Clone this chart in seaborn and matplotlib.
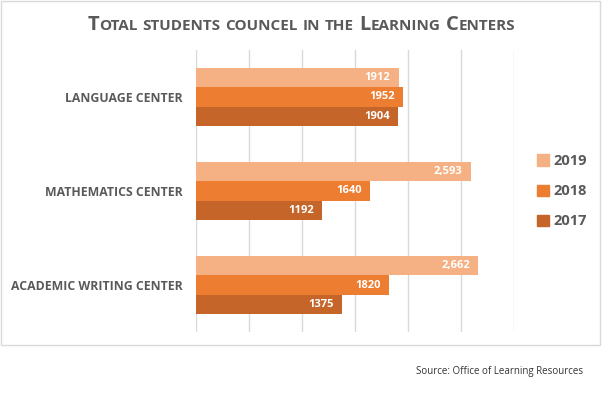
import matplotlib
matplotlib.use("Agg")
import matplotlib.pyplot as plt
import pandas as pd
import seaborn as sns
from matplotlib.patches import Patch, Rectangle

# data
centers = ["LANGUAGE CENTER", "MATHEMATICS CENTER", "ACADEMIC WRITING CENTER"]
years = ["2019", "2018", "2017"]
students_2019 = [1912, 2593, 2662]
students_2018 = [1952, 1640, 1820]
students_2017 = [1904, 1192, 1375]
labels_2019 = ["1912", "2,593", "2,662"]
labels_2018 = ["1952", "1640", "1820"]
labels_2017 = ["1904", "1192", "1375"]
x_ticks = [0, 500, 1000, 1500, 2000, 2500, 3000]

colors = ["#F5B183", "#ED7D31", "#C5652A"]
text_gray = "#595959"

df = pd.DataFrame({
    "center": centers * 3,
    "year": ["2019"] * 3 + ["2018"] * 3 + ["2017"] * 3,
    "students": students_2019 + students_2018 + students_2017,
})
value_labels = {"2019": labels_2019, "2018": labels_2018, "2017": labels_2017}

sns.set_theme(style="white")
plt.rcParams["font.family"] = ["Open Sans", "DejaVu Sans"]

W, H = 602, 396
fig = plt.figure(figsize=(W / 100, H / 100), dpi=100)
ax = fig.add_axes([196 / W, 1 - 332 / H, (514 - 196) / W, (332 - 50) / H])

sns.barplot(data=df, y="center", x="students", hue="year", hue_order=years,
            order=centers, palette=colors, orient="h", width=0.62, gap=0,
            saturation=1, legend=False, linewidth=0, ax=ax)

ax.set_xlim(0, 3000)
ax.set_ylim(2.5, -0.5)
ax.set_xticks(x_ticks)
ax.tick_params(axis="x", length=0, labelbottom=False)
ax.tick_params(axis="y", length=0, pad=9.5)
ax.grid(axis="x", color="#D9D9D9", lw=1)
ax.grid(axis="y", visible=False)
ax.set_axisbelow(True)
for s in ax.spines.values():
    s.set_visible(False)
ax.set_xlabel("")
ax.set_ylabel("")
for t in ax.get_yticklabels():
    t.set_fontsize(8.8)
    t.set_fontweight("bold")
    t.set_color(text_gray)

# white value labels inside bar ends
for year, cont in zip(years, ax.containers):
    for patch, lab in zip(cont.patches, value_labels[year]):
        ax.annotate(lab, (patch.get_width(), patch.get_y() + patch.get_height() / 2),
                    xytext=(-6, 0), textcoords="offset points", ha="right", va="center",
                    color="white", fontsize=8, fontweight="bold")

# legend on the right
handles = [Patch(color=c) for c in colors]
fig.legend(handles, years, loc="upper left", bbox_to_anchor=(524 / W, 1 - 141 / H),
           frameon=False, handlelength=0.8, handleheight=0.8, handletextpad=0.35,
           labelspacing=1.1, prop={"size": 10.5, "weight": "bold"}, labelcolor=text_gray)

# title in small caps
renderer = fig.canvas.get_renderer()
title = "Total students councel in the Learning Centers"
big, small = 14.5, 11
pieces = []
for word in title.split(" "):
    runs = []
    for ch in word:
        size = big if ch.isupper() else small
        if runs and runs[-1][1] == size:
            runs[-1][0] += ch.upper()
        else:
            runs.append([ch.upper(), size])
    pieces.append(runs)

space = 5.0
items = []
x = 0.0
for i, runs in enumerate(pieces):
    if i:
        x += space
    for s, size in runs:
        t = fig.text(0, 1 - 30 / H, s, fontsize=size, fontweight="bold", color=text_gray,
                     ha="left", va="baseline")
        w = t.get_window_extent(renderer).width
        items.append((t, x))
        x += w
start = (W / 2) - x / 2
for t, off in items:
    t.set_x((start + off) / W)

fig.text(583 / W, 1 - 374 / H, "Source: Office of Learning Resources", ha="right",
         va="baseline", fontsize=7, color="#333333")

fig.add_artist(Rectangle((1 / W, 1 - 345 / H), 599 / W, 344 / H, transform=fig.transFigure,
                         fill=False, edgecolor="#D9D9D9", lw=1))

fig.savefig("out.png", dpi=100)
